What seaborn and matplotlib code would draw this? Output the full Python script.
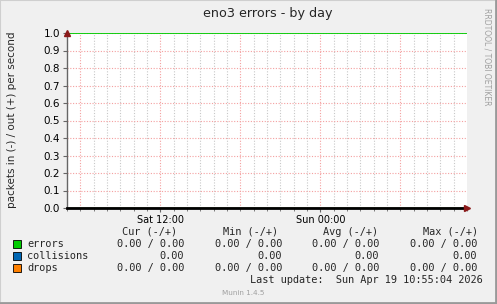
import numpy as np
import pandas as pd
import matplotlib
matplotlib.use("Agg")
import matplotlib.pyplot as plt
import seaborn as sns
from matplotlib.patches import Rectangle

# ---- data ----
hours = list(range(0, 31))            # hours since Sat 05:00
errors = [0.0] * 31
collisions = [0.0] * 31
drops = [0.0] * 31
upper_line = [1.0] * 31
series_names = ["errors", "collisions", "drops"]
series_colors = ["#00CC00", "#0066B3", "#FF8000"]
cur_vals = ["0.00 / 0.00", "0.00", "0.00 / 0.00"]
min_vals = ["0.00 / 0.00", "0.00", "0.00 / 0.00"]
avg_vals = ["0.00 / 0.00", "0.00", "0.00 / 0.00"]
max_vals = ["0.00 / 0.00", "0.00", "0.00 / 0.00"]
col_headers = ["Cur (-/+)", "Min (-/+)", "Avg (-/+)", "Max (-/+)"]
xtick_pos = [7, 19]
xtick_labels = ["Sat 12:00", "Sun 00:00"]
ytick_vals = [0.0, 0.1, 0.2, 0.3, 0.4, 0.5, 0.6, 0.7, 0.8, 0.9, 1.0]
title = "eno3 errors - by day"
ylabel = "packets in (-) / out (+) per second"
last_update = "Last update:  Sun Apr 19 10:55:04 2026"

sns.set_theme(style="white")
plt.rcParams["font.family"] = ["DejaVu Sans"]

W, H = 497, 304
fig = plt.figure(figsize=(W / 100, H / 100), dpi=100, facecolor="#F0F0F0")

def fx(px):
    return px / W

def fy(py):
    return 1 - py / H

ax = fig.add_axes([fx(67), fy(208), fx(467) - fx(67), fy(33) - fy(208)])
ax.set_facecolor("white")

df = pd.DataFrame({"hour": hours * 3,
                   "value": errors + collisions + drops,
                   "series": ["errors"] * 31 + ["collisions"] * 31 + ["drops"] * 31})
sns.lineplot(data=df, x="hour", y="value", hue="series",
             palette=dict(zip(series_names, series_colors)), ax=ax,
             legend=False, linewidth=1, zorder=3)
sns.lineplot(x=hours, y=upper_line, color="#00CC00", linewidth=1.3, ax=ax, zorder=4)

ax.set_xlim(0, 30)
ax.set_ylim(0, 1.0)

# grid
ax.set_xticks(xtick_pos)
ax.set_xticklabels(xtick_labels)
ax.set_xticks(range(0, 31), minor=True)
ax.set_yticks(ytick_vals)
ax.set_yticklabels([f"{v:.1f}" for v in ytick_vals])
for h in range(1, 30):
    if (h - 1) % 6 == 0:
        ax.axvline(h, color="#F4A0A0", linestyle=(0, (1, 1.5)), linewidth=0.8, zorder=1)
    else:
        ax.axvline(h, color="#C8C8C8", linestyle=(0, (1, 1.5)), linewidth=0.8, zorder=1)
for v in ytick_vals[1:]:
    ax.axhline(v, color="#F4A0A0", linestyle=(0, (1, 1.5)), linewidth=0.8, zorder=1)

for s in ["top", "right"]:
    ax.spines[s].set_visible(False)
ax.spines["left"].set_color("#666666")
ax.spines["left"].set_linewidth(1)
ax.spines["bottom"].set_color("black")
ax.spines["bottom"].set_linewidth(2)
ax.spines["bottom"].set_zorder(5)
ax.spines["left"].set_zorder(5)

ax.tick_params(axis="y", which="major", length=3, width=0.8, color="#666666",
               labelsize=7.5, pad=2, labelcolor="black", left=True)
ax.tick_params(axis="x", which="major", length=3, width=0.8, color="#666666",
               labelsize=7, pad=2, labelcolor="black", bottom=True)
ax.tick_params(axis="x", which="minor", length=2, width=0.6, color="#666666", bottom=True)

# arrows
ax.plot(0, 1.0, marker="^", markersize=5, color="#8B1A1A", transform=ax.transAxes,
        clip_on=False, zorder=6)
ax.plot(1.0, 0, marker=">", markersize=5, color="#8B1A1A", transform=ax.transAxes,
        clip_on=False, zorder=6)
ax.set_xlabel("")
ax.set_ylabel("")

# title and labels
fig.text(fx(268), fy(14), title, ha="center", va="center", fontsize=9.2)
fig.text(fx(12), fy(120), ylabel, ha="center", va="center", rotation=90, fontsize=7.5)
fig.text(fx(487), fy(57), "RRDTOOL / TOBI OETIKER", ha="center", va="center",
         rotation=270, fontsize=5.5, color="#A0A0A0")

mono = "DejaVu Sans Mono"
fs = 7.4
header_left = [122, 223, 323, 423]
val_right = [184, 282, 379, 477]
for hx, hd in zip(header_left, col_headers):
    fig.text(fx(hx), fy(232), hd, ha="left", va="center", family=mono, fontsize=fs)
row_y = [244, 256, 268]
for i, (nm, col) in enumerate(zip(series_names, series_colors)):
    fig.patches.append(Rectangle((fx(13), fy(row_y[i] + 4)), fx(8), 8 / H,
                                 transform=fig.transFigure, facecolor=col,
                                 edgecolor="black", linewidth=0.6))
    fig.text(fx(27), fy(row_y[i]), nm, ha="left", va="center", family=mono, fontsize=fs)
    for xr, vals in zip(val_right, [cur_vals, min_vals, avg_vals, max_vals]):
        fig.text(fx(xr), fy(row_y[i]), vals[i], ha="right", va="center",
                 family=mono, fontsize=fs)
fig.text(fx(483), fy(280), last_update, ha="right", va="center", family=mono, fontsize=fs)
fig.text(fx(243), fy(293), "Munin 1.4.5", ha="center", va="center", fontsize=5.2,
         color="#A0A0A0")

# border
fig.patches.append(Rectangle((0, 0), 1, 1, transform=fig.transFigure, fill=False,
                             edgecolor="#CFCFCF", linewidth=1.5))
fig.lines.append(plt.Line2D([fx(496), fx(496)], [0, 1], transform=fig.transFigure,
                            color="#999999", linewidth=2))
fig.lines.append(plt.Line2D([0, 1], [fy(303), fy(303)], transform=fig.transFigure,
                            color="#999999", linewidth=2))

fig.savefig("out.png", dpi=100, facecolor=fig.get_facecolor())
